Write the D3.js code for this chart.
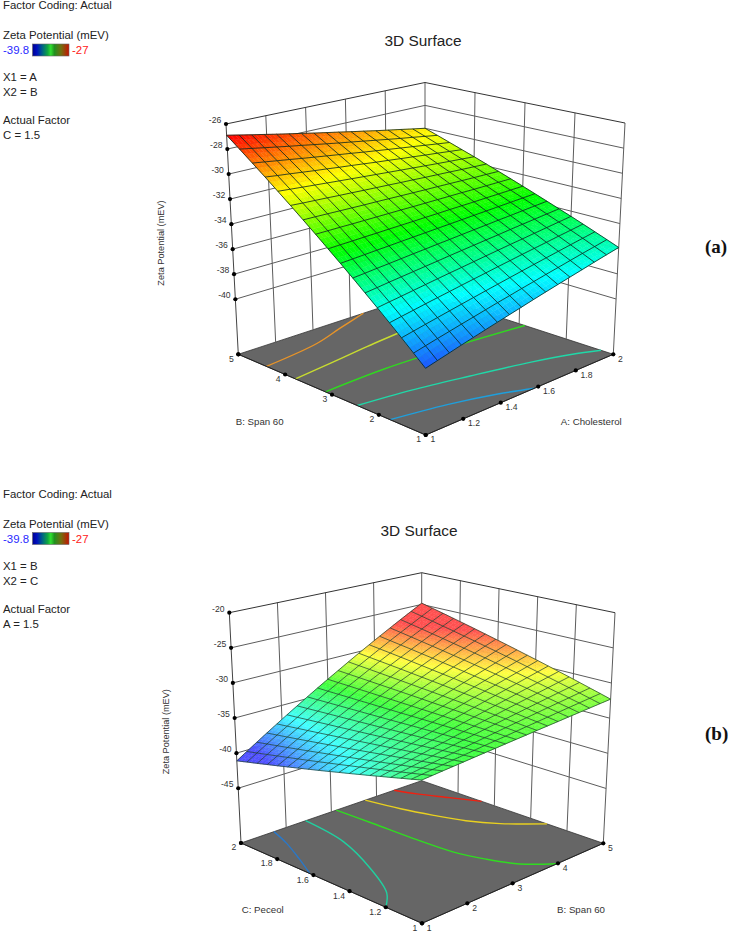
<!DOCTYPE html>
<html><head><meta charset="utf-8">
<script src="https://cdn.jsdelivr.net/npm/d3@7"></script>
<style>html,body{margin:0;padding:0;background:#fff}svg{display:block}text{font-family:"Liberation Sans",Arial,sans-serif}</style>
</head><body><svg id="c" width="730" height="933"></svg>
<script>
// ---------- Panel (a) data ----------
const aTicksA = [1, 1.2, 1.4, 1.6, 1.8, 2];
const aTicksB = [1, 2, 3, 4, 5];
const aTicksZ = [-26, -28, -30, -32, -34, -36, -38, -40];
// zeta potential: rows follow B = 1..5, columns follow A = 1..2
const aSurface = [
[-39.45,-39.23,-39.01,-38.78,-38.56,-38.34,-38.12,-37.90,-37.68,-37.45,-37.23,-37.01,-36.79,-36.57,-36.34,-36.12,-35.90],
[-38.67,-38.47,-38.27,-38.08,-37.88,-37.69,-37.49,-37.29,-37.10,-36.90,-36.71,-36.51,-36.32,-36.12,-35.92,-35.73,-35.53],
[-37.88,-37.71,-37.54,-37.37,-37.20,-37.03,-36.86,-36.69,-36.52,-36.35,-36.18,-36.01,-35.84,-35.67,-35.50,-35.33,-35.16],
[-37.10,-36.95,-36.81,-36.66,-36.52,-36.38,-36.23,-36.09,-35.95,-35.80,-35.66,-35.51,-35.37,-35.23,-35.08,-34.94,-34.79],
[-36.31,-36.19,-36.08,-35.96,-35.84,-35.72,-35.60,-35.49,-35.37,-35.25,-35.13,-35.01,-34.90,-34.78,-34.66,-34.54,-34.42],
[-35.53,-35.44,-35.34,-35.25,-35.16,-35.07,-34.98,-34.88,-34.79,-34.70,-34.61,-34.52,-34.42,-34.33,-34.24,-34.15,-34.06],
[-34.74,-34.68,-34.61,-34.55,-34.48,-34.41,-34.35,-34.28,-34.22,-34.15,-34.08,-34.02,-33.95,-33.89,-33.82,-33.75,-33.69],
[-33.96,-33.92,-33.88,-33.84,-33.80,-33.76,-33.72,-33.68,-33.64,-33.60,-33.56,-33.52,-33.48,-33.44,-33.40,-33.36,-33.32],
[-33.18,-33.16,-33.15,-33.13,-33.12,-33.10,-33.09,-33.08,-33.06,-33.05,-33.03,-33.02,-33.01,-32.99,-32.98,-32.96,-32.95],
[-32.39,-32.40,-32.41,-32.43,-32.44,-32.45,-32.46,-32.47,-32.49,-32.50,-32.51,-32.52,-32.53,-32.55,-32.56,-32.57,-32.58],
[-31.61,-31.64,-31.68,-31.72,-31.76,-31.80,-31.83,-31.87,-31.91,-31.95,-31.99,-32.02,-32.06,-32.10,-32.14,-32.17,-32.21],
[-30.82,-30.89,-30.95,-31.01,-31.08,-31.14,-31.21,-31.27,-31.33,-31.40,-31.46,-31.53,-31.59,-31.65,-31.72,-31.78,-31.84],
[-30.04,-30.13,-30.22,-30.31,-30.40,-30.49,-30.58,-30.67,-30.76,-30.85,-30.94,-31.03,-31.12,-31.21,-31.30,-31.38,-31.47],
[-29.25,-29.37,-29.48,-29.60,-29.72,-29.83,-29.95,-30.06,-30.18,-30.30,-30.41,-30.53,-30.64,-30.76,-30.87,-30.99,-31.11],
[-28.47,-28.61,-28.75,-28.89,-29.04,-29.18,-29.32,-29.46,-29.60,-29.75,-29.89,-30.03,-30.17,-30.31,-30.45,-30.60,-30.74],
[-27.68,-27.85,-28.02,-28.19,-28.36,-28.52,-28.69,-28.86,-29.03,-29.19,-29.36,-29.53,-29.70,-29.87,-30.03,-30.20,-30.37],
[-26.90,-27.09,-27.29,-27.48,-27.68,-27.87,-28.06,-28.26,-28.45,-28.64,-28.84,-29.03,-29.23,-29.42,-29.61,-29.81,-30.00]
];
// contour lines on the floor, as [A, B]
const aContourBlue = [[1,1.76],[1.25,1.54],[1.45,1.26],[1.58,1]];
const aContourTeal = [[1,2.46],[1.25,2.30],[1.5,2.05],[1.75,1.75],[1.9,1.5],[2,1.26]];
const aContourGreen = [[1,3.14],[1.33,3.16],[1.66,3.06],[2,2.88]];
const aContourYellow = [[1,3.78],[1.22,3.87],[1.43,3.97],[1.70,4.07]];
const aContourOrange = [[1,4.40],[1.31,4.56],[1.49,4.78],[1.67,5]];

// ---------- Panel (b) data ----------
const bTicksB = [1, 2, 3, 4, 5];
const bTicksC = [1, 1.2, 1.4, 1.6, 1.8, 2];
const bTicksZ = [-20, -25, -30, -35, -40, -45];
// zeta potential: rows follow C = 1..2, columns follow B = 1..5
const bSurface = [
[-33.80,-33.72,-33.63,-33.55,-33.47,-33.38,-33.30,-33.22,-33.13,-33.05,-32.97,-32.88,-32.80,-32.72,-32.63,-32.55,-32.47,-32.38,-32.30],
[-34.21,-34.08,-33.95,-33.82,-33.69,-33.56,-33.43,-33.30,-33.17,-33.05,-32.92,-32.79,-32.66,-32.53,-32.40,-32.27,-32.14,-32.01,-31.88],
[-34.61,-34.44,-34.26,-34.09,-33.91,-33.74,-33.56,-33.39,-33.21,-33.04,-32.86,-32.69,-32.51,-32.34,-32.16,-31.99,-31.82,-31.64,-31.47],
[-35.02,-34.80,-34.58,-34.36,-34.14,-33.91,-33.69,-33.47,-33.25,-33.03,-32.81,-32.59,-32.37,-32.15,-31.93,-31.71,-31.49,-31.27,-31.05],
[-35.42,-35.16,-34.89,-34.62,-34.36,-34.09,-33.83,-33.56,-33.29,-33.03,-32.76,-32.50,-32.23,-31.96,-31.70,-31.43,-31.17,-30.90,-30.63],
[-35.83,-35.52,-35.20,-34.89,-34.58,-34.27,-33.96,-33.65,-33.33,-33.02,-32.71,-32.40,-32.09,-31.78,-31.46,-31.15,-30.84,-30.53,-30.22],
[-36.23,-35.88,-35.52,-35.16,-34.80,-34.45,-34.09,-33.73,-33.37,-33.02,-32.66,-32.30,-31.94,-31.59,-31.23,-30.87,-30.51,-30.16,-29.80],
[-36.64,-36.24,-35.83,-35.43,-35.03,-34.62,-34.22,-33.82,-33.41,-33.01,-32.61,-32.20,-31.80,-31.40,-31.00,-30.59,-30.19,-29.79,-29.38],
[-37.04,-36.60,-36.15,-35.70,-35.25,-34.80,-34.35,-33.90,-33.45,-33.00,-32.56,-32.11,-31.66,-31.21,-30.76,-30.31,-29.86,-29.41,-28.97],
[-37.45,-36.96,-36.46,-35.97,-35.47,-34.98,-34.48,-33.99,-33.49,-33.00,-32.51,-32.01,-31.52,-31.02,-30.53,-30.03,-29.54,-29.04,-28.55],
[-37.86,-37.32,-36.78,-36.24,-35.70,-35.16,-34.62,-34.08,-33.54,-32.99,-32.45,-31.91,-31.37,-30.83,-30.29,-29.75,-29.21,-28.67,-28.13],
[-38.26,-37.68,-37.09,-36.50,-35.92,-35.33,-34.75,-34.16,-33.58,-32.99,-32.40,-31.82,-31.23,-30.65,-30.06,-29.47,-28.89,-28.30,-27.72],
[-38.67,-38.04,-37.40,-36.77,-36.14,-35.51,-34.88,-34.25,-33.62,-32.98,-32.35,-31.72,-31.09,-30.46,-29.83,-29.20,-28.56,-27.93,-27.30],
[-39.07,-38.40,-37.72,-37.04,-36.36,-35.69,-35.01,-34.33,-33.65,-32.98,-32.30,-31.62,-30.95,-30.27,-29.59,-28.91,-28.24,-27.56,-26.88],
[-39.48,-38.75,-38.03,-37.31,-36.59,-35.86,-35.14,-34.42,-33.70,-32.97,-32.25,-31.53,-30.80,-30.08,-29.36,-28.64,-27.91,-27.19,-26.47],
[-39.88,-39.11,-38.35,-37.58,-36.81,-36.04,-35.27,-34.50,-33.73,-32.97,-32.20,-31.43,-30.66,-29.89,-29.12,-28.36,-27.59,-26.82,-26.05],
[-40.29,-39.47,-38.66,-37.85,-37.03,-36.22,-35.40,-34.59,-33.78,-32.96,-32.15,-31.33,-30.52,-29.70,-28.89,-28.08,-27.26,-26.45,-25.63],
[-40.69,-39.83,-38.97,-38.11,-37.26,-36.40,-35.54,-34.68,-33.82,-32.96,-32.10,-31.24,-30.38,-29.52,-28.66,-27.80,-26.94,-26.08,-25.22],
[-41.10,-40.19,-39.29,-38.38,-37.48,-36.57,-35.67,-34.76,-33.85,-32.95,-32.05,-31.14,-30.23,-29.33,-28.42,-27.52,-26.61,-25.71,-24.80]
];
// contour lines on the floor, as [B, C]
const bContourBlue = [[1.73,2],[1.55,1.885],[1.28,1.75],[1,1.62]];
const bContourTeal = [[2.43,2],[2.27,1.75],[1.85,1.50],[1.38,1.29],[1,1.20]];
const bContourGreen = [[3.11,2],[3.14,1.805],[3.16,1.59],[3.22,1.38],[3.37,1.24],[3.59,1.11],[3.98,1]];
const bContourYellow = [[3.75,2],[3.89,1.84],[4.06,1.70],[4.25,1.57],[4.53,1.45],[5,1.31]];
const bContourRed = [[4.39,2],[4.53,1.91],[4.77,1.79],[5,1.67]];

// legend range of the colour scale
const colorStops = [-39.8, -36.6, -33.4, -30.2, -27];

// ---------- Layout ----------
const svg = d3.select("#c");
const lineGen = d3.line().x(d => d[0]).y(d => d[1]);

function panel(o) {
  const g = svg.append("g");
  const u = d3.scaleLinear().domain(o.uDomain).range([0, 1]);
  const v = d3.scaleLinear().domain(o.vDomain).range([0, 1]);
  const w = d3.scaleLinear().domain(o.zDomain).range([0, 1]);
  // box: floor and top corner pixels, blended along the three axes
  const blend = (f, r, l, b, a, c) => (1 - a) * (1 - c) * f + a * (1 - c) * r + (1 - a) * c * l + a * c * b;
  const P = (a, c, z) => {
    const ua = u(a), vc = v(c), wz = w(z);
    const fl = i => blend(o.floor.F[i], o.floor.R[i], o.floor.L[i], o.floor.B[i], ua, vc);
    const tp = i => blend(o.top.F[i], o.top.R[i], o.top.L[i], o.top.B[i], ua, vc);
    return [fl(0) + (tp(0) - fl(0)) * wz, fl(1) + (tp(1) - fl(1)) * wz];
  };
  const [u0, u1] = o.uDomain, [v0, v1] = o.vDomain, [zb, zt] = o.zDomain;

  // floor
  g.append("path").attr("d", lineGen([P(u0,v0,zb),P(u1,v0,zb),P(u1,v1,zb),P(u0,v1,zb)]) + "Z")
    .attr("fill", "#666666").attr("stroke", "#333").attr("stroke-width", 0.8);

  // walls
  const wall = g.append("g").attr("fill", "none").attr("stroke", "#5c5c5c").attr("stroke-width", 1);
  o.uTicks.slice(1, -1).forEach(t => wall.append("path").attr("d", lineGen([P(t,v1,zb),P(t,v1,zt)])));
  o.vTicks.slice(1, -1).forEach(t => wall.append("path").attr("d", lineGen([P(u1,t,zb),P(u1,t,zt)])));
  o.zTicks.slice(1).forEach(t => wall.append("path").attr("d", lineGen([P(u0,v1,t),P(u1,v1,t),P(u1,v0,t)])));
  wall.append("path").attr("d", lineGen([P(u1,v1,zb),P(u1,v1,zt)]));
  wall.append("path").attr("d", lineGen([P(u1,v0,zb),P(u1,v0,zt)]));
  wall.append("path").attr("d", lineGen([P(u0,v1,zb),P(u0,v1,zt)])).attr("stroke", "#444");
  wall.append("path").attr("d", lineGen([P(u0,v1,zt),P(u1,v1,zt),P(u1,v0,zt)])).attr("stroke", "#333");

  // contours
  const curve = d3.line().x(d => d[0]).y(d => d[1]).curve(d3.curveCatmullRom);
  o.contours.forEach(c => g.append("path").attr("d", curve(c.points.map(p => P(p[0], p[1], zb))))
    .attr("fill", "none").attr("stroke", c.color).attr("stroke-width", 1.4));

  // surface
  const color = d3.scaleLinear().domain(colorStops).range(o.colorRange).clamp(true);
  const n = o.surface.length - 1, m = o.surface[0].length - 1;
  const ga = d3.scaleLinear().domain([0, m]).range(o.uDomain);
  const gv = d3.scaleLinear().domain([0, n]).range(o.vDomain);
  const sub = 3, cells = g.append("g");
  const S = o.surface;
  for (let j = 0; j < n; j++) for (let i = 0; i < m; i++) {
    const zAt = (x, y) => (1-x)*(1-y)*S[j][i] + x*(1-y)*S[j][i+1] + (1-x)*y*S[j+1][i] + x*y*S[j+1][i+1];
    const Q = (x, y) => P(ga(i + x), gv(j + y), zAt(x, y));
    for (let b = 0; b < sub; b++) for (let a = 0; a < sub; a++) {
      const x0 = a/sub, x1 = (a+1)/sub, y0 = b/sub, y1 = (b+1)/sub;
      const col = color(zAt((x0+x1)/2, (y0+y1)/2));
      cells.append("path").attr("d", lineGen([Q(x0,y0),Q(x1,y0),Q(x1,y1),Q(x0,y1)]) + "Z")
        .attr("fill", col).attr("stroke", col).attr("stroke-width", 0.4);
    }
  }
  const mesh = g.append("g").attr("fill", "none").attr("stroke", o.meshColor).attr("stroke-width", o.meshWidth);
  S.forEach((row, j) => mesh.append("path").attr("d", lineGen(row.map((z, i) => P(ga(i), gv(j), z)))));
  d3.range(m + 1).forEach(i => mesh.append("path").attr("d", lineGen(S.map((row, j) => P(ga(i), gv(j), row[i])))));

  // axis edges, ticks
  g.append("path").attr("d", lineGen([P(u1,v0,zb),P(u0,v0,zb),P(u0,v1,zb)]))
    .attr("fill", "none").attr("stroke", "#222").attr("stroke-width", 1);
  const dot = p => g.append("circle").attr("cx", p[0]).attr("cy", p[1]).attr("r", 2.1).attr("fill", "#000");
  const label = (p, s, anchor, dx, dy) => g.append("text").attr("x", p[0] + dx).attr("y", p[1] + dy)
    .attr("text-anchor", anchor).attr("font-size", 8.6).attr("fill", "#333").text(s);
  o.uTicks.forEach(t => { const p = P(t, v0, zb); dot(p); label(p, t, "start", 4.8, 7.2); });
  o.vTicks.forEach(t => { const p = P(u0, t, zb); dot(p); label(p, t, "end", -4.6, 7.4); });
  o.zTicks.forEach(t => { const p = P(u0, v1, t); dot(p); label(p, t, "end", -4.8, -1); });
  dot(P(u0, v1, zb));

  // titles
  g.append("text").attr("x", o.title[0]).attr("y", o.title[1]).attr("text-anchor", "middle")
    .attr("font-size", 15.4).attr("fill", "#222").text("3D Surface");
  const axt = (x, y, s, anchor) => g.append("text").attr("x", x).attr("y", y).attr("text-anchor", anchor)
    .attr("font-size", 9.7).attr("fill", "#333").text(s);
  axt(o.vLabel[0], o.vLabel[1], o.vName, "start");
  axt(o.uLabel[0], o.uLabel[1], o.uName, "end");
  g.append("text").attr("transform", `translate(${o.zLabel[0]},${o.zLabel[1]}) rotate(-90)`)
    .attr("text-anchor", "middle").attr("font-size", 9.2).attr("fill", "#333").text("Zeta Potential (mEV)");

  // legend text
  const lg = svg.append("g");
  const lt = (x, y, s, fill) => lg.append("text").attr("x", x).attr("y", y).attr("font-size", 11.4).attr("fill", fill || "#222").text(s);
  const y0 = o.legendY;
  lt(3, y0 + 9, "Factor Coding: Actual");
  lt(3, y0 + 39, "Zeta Potential (mEV)");
  lt(3, y0 + 54, "-39.8", "#2a2aff");
  lt(72, y0 + 54, "-27", "#ff2020");
  lt(3, y0 + 81, o.x1);
  lt(3, y0 + 96, o.x2);
  lt(3, y0 + 124, "Actual Factor");
  lt(3, y0 + 139, o.actual);
  lg.append("rect").attr("x", 32.5).attr("y", y0 + 44).attr("width", 36.5).attr("height", 12)
    .attr("fill", "url(#bar)").attr("stroke", "#666").attr("stroke-width", 0.6);

  svg.append("text").attr("x", 705).attr("y", o.tagY).attr("font-weight", "bold").attr("font-size", 19).attr("fill", "#111")
    .style("font-family", "'Liberation Serif',serif").text(o.tag);
}

const grad = svg.append("defs").append("linearGradient").attr("id", "bar");
[[0,"#000090"],[0.12,"#0010c0"],[0.28,"#006880"],[0.42,"#10a840"],[0.5,"#30e030"],[0.6,"#209020"],[0.78,"#707010"],[1,"#c81000"]]
  .forEach(s => grad.append("stop").attr("offset", s[0]).attr("stop-color", s[1]));

panel({
  uDomain: [1, 2], vDomain: [1, 5], zDomain: [-44.4, -26],
  uTicks: aTicksA, vTicks: aTicksB, zTicks: aTicksZ,
  floor: { F: [425.7, 435], R: [613.3, 354.3], L: [238.3, 354.3], B: [425, 293] },
  top: { F: [425, 187], R: [625, 123], L: [226, 124], B: [425, 82.5] },
  surface: aSurface,
  contours: [
    { points: aContourBlue, color: "#1f9fdc" }, { points: aContourTeal, color: "#20d8a8" },
    { points: aContourGreen, color: "#30d820" }, { points: aContourYellow, color: "#c8dc30" },
    { points: aContourOrange, color: "#e89428" }],
  colorRange: ["#2040ff", "#00ffff", "#00ff00", "#ffff00", "#ff0000"],
  meshColor: "#06241a", meshWidth: 0.8,
  title: [423, 46], vLabel: [235.7, 425], uLabel: [621.7, 425], zLabel: [163.5, 243],
  vName: "B: Span 60", uName: "A: Cholesterol",
  legendY: 0, x1: "X1 = A", x2: "X2 = B", actual: "C = 1.5", tag: "(a)", tagY: 253
});
panel({
  uDomain: [1, 5], vDomain: [1, 2], zDomain: [-52.8, -20],
  uTicks: bTicksB, vTicks: bTicksC, zTicks: bTicksZ,
  floor: { F: [422, 923.3], R: [603.3, 843.3], L: [241, 843], B: [421.7, 780.7] },
  top: { F: [421.5, 676], R: [615, 612.7], L: [229.3, 612.7], B: [421.7, 572.7] },
  surface: bSurface,
  contours: [
    { points: bContourBlue, color: "#2a78c8" }, { points: bContourTeal, color: "#20d0a0" },
    { points: bContourGreen, color: "#30dc20" }, { points: bContourYellow, color: "#e8d020" },
    { points: bContourRed, color: "#f02010" }],
  colorRange: ["#5050ff", "#40ffff", "#40ff40", "#ffff40", "#ff5050"],
  meshColor: "#1a3a2a", meshWidth: 0.7,
  title: [419, 536], vLabel: [241.7, 913], uLabel: [605, 913], zLabel: [169, 731.7],
  vName: "C: Peceol", uName: "B: Span 60",
  legendY: 488.5, x1: "X1 = B", x2: "X2 = C", actual: "A = 1.5", tag: "(b)", tagY: 740
});
</script></body></html>
